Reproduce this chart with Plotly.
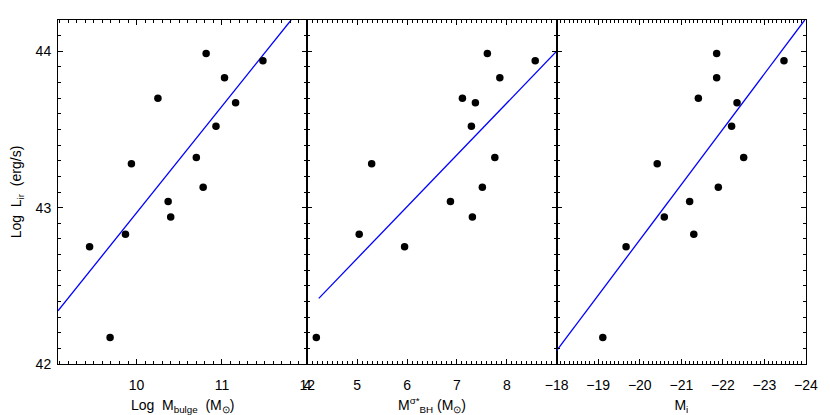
import plotly.graph_objects as go
from plotly.subplots import make_subplots

# shared y values: log infrared luminosity
log_lir = [42.75, 42.17, 42.83, 43.28, 43.70, 43.04, 42.94,
           43.32, 43.13, 43.985, 43.52, 43.83, 43.67, 43.94]

# panel 1: log bulge mass
log_mbulge = [9.45, 9.69, 9.87, 9.94, 10.25, 10.37, 10.40,
              10.70, 10.78, 10.815, 10.93, 11.03, 11.16, 11.48]

# panel 2: black hole mass from sigma (same objects, same y order)
mbh_sigma = [5.95, 4.18, 5.04, 5.29, 7.11, 6.87, 7.31,
             7.76, 7.51, 7.61, 7.29, 7.86, 7.37, 8.57]

# panel 3: i-band absolute magnitude
mag_i = [-19.67, -19.11, -21.30, -20.42, -21.41, -21.20, -20.59,
         -22.50, -21.89, -21.85, -22.21, -21.85, -22.34, -23.47]

# fitted lines (end points)
fit1_x = [9.08, 11.81]
fit1_y = [42.34, 44.2]
fit2_x = [4.23, 9.0]
fit2_y = [42.42, 44.0]
fit3_x = [-18.0, -23.97]
fit3_y = [42.085, 44.2]

x_ranges = [[9.08, 12.0], [4.0, 9.0], [-18.0, -24.0]]
x_ticks = [[10, 11, 12], [4, 5, 6, 7, 8], [-18, -19, -20, -21, -22, -23, -24]]
x_titles = [
    "Log  M<sub>bulge</sub>  (M<sub>\u2299</sub>)",
    "M<sup>\u03c3*</sup><sub>BH</sub> (M<sub>\u2299</sub>)",
    "M<sub>i</sub>",
]

FONT = "Liberation Sans"

fig = make_subplots(rows=1, cols=3, horizontal_spacing=0, shared_yaxes=False)

panels = [(log_mbulge, fit1_x, fit1_y), (mbh_sigma, fit2_x, fit2_y), (mag_i, fit3_x, fit3_y)]
for i, (xs, fx, fy) in enumerate(panels, start=1):
    fig.add_trace(
        go.Scatter(x=fx, y=fy, mode="lines", line=dict(color="#0000ff", width=1.3),
                   showlegend=False, hoverinfo="skip"),
        row=1, col=i,
    )
    fig.add_trace(
        go.Scatter(x=xs, y=log_lir, mode="markers",
                   marker=dict(color="black", size=7.5, line=dict(width=0)),
                   showlegend=False, cliponaxis=False),
        row=1, col=i,
    )

for i in range(3):
    fig.update_xaxes(
        range=x_ranges[i], tickvals=x_ticks[i],
        title=dict(text=x_titles[i], font=dict(size=14, family=FONT, color="black"), standoff=8),
        ticks="inside", ticklen=5, tickwidth=1, tickcolor="black",
        minor=dict(dtick=0.1, ticks="inside", ticklen=3, tickwidth=1, tickcolor="black"),
        showline=True, linecolor="black", linewidth=1, mirror="allticks",
        showgrid=False, zeroline=False, automargin=False,
        tickfont=dict(size=14, family=FONT, color="black"),
        ticklabelstandoff=8,
        row=1, col=i + 1,
    )
    fig.update_yaxes(
        range=[42, 44.2], tickvals=[42, 43, 44],
        ticks="inside", ticklen=5, tickwidth=1, tickcolor="black",
        minor=dict(dtick=0.1, ticks="inside", ticklen=3, tickwidth=1, tickcolor="black"),
        showline=True, linecolor="black", linewidth=1, mirror="allticks",
        showgrid=False, zeroline=False, automargin=False,
        showticklabels=(i == 0),
        tickfont=dict(size=14, family=FONT, color="black"),
        ticklabelstandoff=3,
        row=1, col=i + 1,
    )

fig.update_yaxes(
    title=dict(text="Log  L<sub>ir</sub>  (erg/s)", font=dict(size=14, family=FONT, color="black"),
               standoff=10),
    row=1, col=1,
)

fig.update_layout(
    width=830, height=415,
    margin=dict(l=58, r=24, t=20, b=51),
    plot_bgcolor="white", paper_bgcolor="white",
    font=dict(family=FONT, color="black"),
)

# drop the default page margin so the figure sits at the window's top-left corner
fig.write_html("out.html", config={"displayModeBar": False},
               post_script="document.body.style.margin='0';")
